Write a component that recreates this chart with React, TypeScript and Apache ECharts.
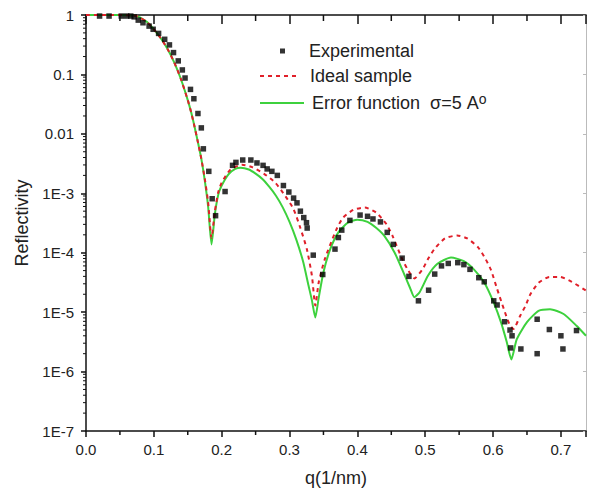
import { useEffect, useRef } from 'react';
import * as echarts from 'echarts';

// ---------- data ----------
const expQ = [
  0.020, 0.034, 0.052, 0.060, 0.066, 0.071, 0.077, 0.084, 0.093, 0.099,
  0.107, 0.116, 0.123, 0.129, 0.136, 0.142, 0.146, 0.154, 0.159, 0.165,
  0.170, 0.173, 0.181, 0.186, 0.191, 0.205, 0.216, 0.221, 0.231, 0.243,
  0.252, 0.261, 0.267, 0.274, 0.282, 0.291, 0.299, 0.306, 0.311, 0.316,
  0.321, 0.325, 0.326, 0.335, 0.349, 0.367, 0.372, 0.377, 0.389, 0.404,
  0.415, 0.423, 0.434, 0.444, 0.453, 0.466, 0.476, 0.490, 0.505, 0.514,
  0.524, 0.534, 0.548, 0.557, 0.566, 0.579, 0.587, 0.601, 0.606, 0.617,
  0.625, 0.628, 0.626, 0.641, 0.665, 0.665, 0.683, 0.700, 0.703, 0.723,
];
const expR = [
  0.96, 0.96, 0.96, 0.96, 0.96, 0.93, 0.82, 0.74, 0.65, 0.575,
  0.49, 0.39, 0.314, 0.233, 0.169, 0.119, 0.087, 0.056, 0.039, 0.022,
  0.0126, 0.0056, 0.00234, 0.00081, 0.00042, 0.00107, 0.00295, 0.00331, 0.00363, 0.00363,
  0.00324, 0.00295, 0.00257, 0.00234, 0.0020, 0.00135, 0.00105, 0.00083, 0.00069, 0.0005,
  0.00039, 0.00032, 0.00026, 9.1e-5, 4.3e-5, 1.15e-4, 1.8e-4, 2.4e-4, 3.5e-4, 4.3e-4,
  4.1e-4, 3.7e-4, 3.3e-4, 2.2e-4, 1.38e-4, 8.1e-5, 4.0e-5, 1.55e-5, 2.34e-5, 4.37e-5,
  6.0e-5, 6.6e-5, 6.8e-5, 6.3e-5, 5.25e-5, 3.8e-5, 3.24e-5, 1.55e-5, 1.32e-5, 6.9e-6,
  5.0e-6, 4.0e-6, 2.5e-6, 2.4e-6, 7.6e-6, 2.0e-6, 5.1e-6, 4.0e-6, 2.4e-6, 4.9e-6,
];

const idealQ = [
  0.000, 0.030, 0.060, 0.070, 0.075, 0.080, 0.090, 0.100, 0.110, 0.120,
  0.130, 0.140, 0.150, 0.155, 0.160, 0.165, 0.170, 0.175, 0.180, 0.185,
  0.190, 0.195, 0.200, 0.213, 0.230, 0.245, 0.262, 0.279, 0.294, 0.306,
  0.316, 0.3255, 0.333, 0.338, 0.343, 0.352, 0.369, 0.379, 0.394, 0.411,
  0.428, 0.443, 0.452, 0.465, 0.474, 0.484, 0.496, 0.504, 0.514, 0.529,
  0.547, 0.562, 0.578, 0.589, 0.597, 0.606, 0.616, 0.624, 0.630, 0.640,
  0.648, 0.655, 0.667, 0.683, 0.699, 0.716, 0.737,
];
const idealR = [
  1, 1, 0.995, 0.98, 0.955, 0.90, 0.76, 0.575, 0.41, 0.27,
  0.16, 0.083, 0.037, 0.023, 0.0132, 0.0072, 0.0038, 0.00178, 0.00071, 0.000178,
  0.0005, 0.00105, 0.00151, 0.00251, 0.00302, 0.00275, 0.00214, 0.00151, 0.00089, 0.00054,
  0.00026, 1.15e-4, 4.1e-5, 1.29e-5, 3.16e-5, 7.8e-5, 2.45e-4, 3.9e-4, 5.25e-4, 5.75e-4,
  4.7e-4, 3.0e-4, 1.9e-4, 8.3e-5, 5.25e-5, 3.7e-5, 5.25e-5, 7.8e-5, 1.17e-4, 1.74e-4,
  1.95e-4, 1.74e-4, 1.23e-4, 7.8e-5, 5.1e-5, 2.45e-5, 1.12e-5, 6.3e-6, 5.2e-6, 8.7e-6,
  1.29e-5, 2.0e-5, 3.1e-5, 3.9e-5, 3.9e-5, 3.24e-5, 2.3e-5,
];

const errQ = [
  0.000, 0.030, 0.060, 0.070, 0.075, 0.080, 0.090, 0.100, 0.110, 0.120,
  0.130, 0.140, 0.150, 0.155, 0.160, 0.165, 0.170, 0.175, 0.180, 0.185,
  0.190, 0.195, 0.200, 0.210, 0.220, 0.228, 0.240, 0.250, 0.260, 0.270,
  0.280, 0.290, 0.300, 0.310, 0.320, 0.328, 0.333, 0.338, 0.343, 0.350,
  0.360, 0.372, 0.386, 0.400, 0.415, 0.428, 0.440, 0.455, 0.470, 0.478,
  0.484, 0.492, 0.504, 0.518, 0.538, 0.557, 0.572, 0.587, 0.601, 0.612,
  0.620, 0.627, 0.635, 0.650, 0.667, 0.684, 0.704, 0.723, 0.737,
];
const errR = [
  1, 1, 0.995, 0.98, 0.955, 0.90, 0.76, 0.575, 0.41, 0.27,
  0.16, 0.083, 0.037, 0.023, 0.0132, 0.0072, 0.0038, 0.00166, 0.0006, 0.000138,
  0.00045, 0.00095, 0.00135, 0.00209, 0.00257, 0.00269, 0.00251, 0.00214, 0.00174, 0.00129,
  0.00091, 0.00058, 0.00033, 1.66e-4, 7.1e-5, 2.8e-5, 1.58e-5, 8.1e-6, 1.74e-5, 4.7e-5,
  1.15e-4, 2.2e-4, 3.2e-4, 3.6e-4, 3.3e-4, 2.6e-4, 1.9e-4, 1.0e-4, 4.1e-5, 2.5e-5,
  1.78e-5, 2.19e-5, 4.1e-5, 6.5e-5, 8.3e-5, 7.2e-5, 5.2e-5, 3.16e-5, 1.45e-5, 6.6e-6,
  3.2e-6, 1.6e-6, 3.5e-6, 6.8e-6, 1.05e-5, 1.12e-5, 9.3e-6, 5.9e-6, 4.0e-6,
];

const xTickLabels = ['0.0', '0.1', '0.2', '0.3', '0.4', '0.5', '0.6', '0.7'];
const yTickLabels = ['1', '0.1', '0.01', '1E-3', '1E-4', '1E-5', '1E-6', '1E-7'];
const xMinorTicks = [0.05, 0.15, 0.25, 0.35, 0.45, 0.55, 0.65];
const yMinorMantissas = [2, 3, 4, 5, 6, 7, 8, 9];
const yDecades = [1e-7, 1e-6, 1e-5, 1e-4, 1e-3, 1e-2, 1e-1];

const X_MAX = 0.737;
const Y_MIN = 1e-7;
const Y_MAX = 1;

const SERIES_EXP = 'Experimental';
const SERIES_IDEAL = 'Ideal sample';
const SERIES_ERR = 'Error function  σ=5 A°';

export default function App() {
  const ref = useRef<HTMLDivElement>(null);

  useEffect(() => {
    if (!ref.current) return;
    const chart = echarts.init(ref.current, null, { renderer: 'svg' });
    const font = 'Liberation Sans';
    const ink = '#111';
    const textInk = '#222';

    const yMinor: number[][] = [];
    yDecades.forEach((d) => yMinorMantissas.forEach((m) => yMinor.push([0, m * d])));

    const xFmt = (v: number) => {
      const i = Math.round(v * 10);
      return Math.abs(v * 10 - i) < 1e-6 ? xTickLabels[i] ?? '' : '';
    };
    const yFmt = (v: number) => {
      const e = -Math.round(Math.log10(v));
      return yTickLabels[e] ?? '';
    };

    const axisLineStyle = { color: ink, width: 1.5 };

    const option: any = {
      animation: false,
      backgroundColor: '#fff',
      textStyle: { fontFamily: font },
      grid: { left: 86, right: 1, top: 15, bottom: 60 },
      xAxis: [
        {
          type: 'value',
          min: 0,
          max: X_MAX,
          interval: 0.1,
          position: 'bottom',
          axisLine: { show: true, onZero: false, lineStyle: axisLineStyle },
          axisTick: { show: true, length: 6, lineStyle: { color: ink, width: 1.5 } },
          axisLabel: { margin: 11, fontSize: 15, color: textInk, fontFamily: font, formatter: xFmt },
          splitLine: { show: false },
          name: 'q(1/nm)',
          nameLocation: 'middle',
          nameGap: 38,
          nameTextStyle: { fontSize: 18, color: textInk, fontFamily: font },
        },
        {
          type: 'value',
          min: 0,
          max: X_MAX,
          interval: 0.1,
          position: 'top',
          axisLine: { show: true, onZero: false, lineStyle: axisLineStyle },
          axisTick: { show: true, inside: true, length: 9, lineStyle: { color: ink, width: 1.5 } },
          axisLabel: { show: false },
          splitLine: { show: false },
        },
      ],
      yAxis: [
        {
          type: 'log',
          logBase: 10,
          min: Y_MIN,
          max: Y_MAX,
          position: 'left',
          axisLine: { show: true, onZero: false, lineStyle: axisLineStyle },
          axisTick: { show: true, length: 5, lineStyle: { color: ink, width: 1.5 } },
          axisLabel: { margin: 12, fontSize: 15, color: textInk, fontFamily: font, formatter: yFmt },
          splitLine: { show: false },
          name: 'Reflectivity',
          nameLocation: 'middle',
          nameGap: 48,
          nameTextStyle: { fontSize: 18, color: textInk, fontFamily: font },
        },
        {
          type: 'log',
          logBase: 10,
          min: Y_MIN,
          max: Y_MAX,
          position: 'right',
          axisLine: { show: true, onZero: false, lineStyle: { color: '#bbb', width: 1 } },
          axisTick: { show: true, inside: true, length: 3, lineStyle: { color: '#bbb', width: 1 } },
          axisLabel: { show: false },
          splitLine: { show: false },
        },
      ],
      legend: [
        {
          data: [SERIES_EXP],
          selectedMode: false,
          orient: 'vertical',
          left: 280,
          top: 42,
          padding: 0,
          itemWidth: 5,
          itemHeight: 5,
          icon: 'rect',
          textStyle: { fontSize: 18, color: textInk, fontFamily: font, padding: [0, 0, 0, 19] },
        },
        {
          data: [SERIES_IDEAL],
          selectedMode: false,
          orient: 'vertical',
          left: 259,
          top: 67,
          padding: 0,
          itemWidth: 38,
          itemHeight: 14,
          itemStyle: { opacity: 0 },
          textStyle: { fontSize: 18, color: textInk, fontFamily: font, padding: [0, 0, 0, 7] },
        },
        {
          data: [SERIES_ERR],
          selectedMode: false,
          orient: 'vertical',
          left: 259,
          top: 92,
          padding: 0,
          itemWidth: 44,
          itemHeight: 14,
          itemStyle: { opacity: 0 },
          formatter: () => 'Error function  σ=5 A{sup|o}',
          textStyle: {
            fontSize: 18,
            lineHeight: 22,
            color: textInk,
            fontFamily: font,
            padding: [0, 0, 0, 3],
            rich: {
              sup: { fontSize: 14, color: textInk, fontFamily: font, verticalAlign: 'top', lineHeight: 14 },
            },
          },
        },
      ],
      series: [
        {
          name: SERIES_ERR,
          type: 'line',
          xAxisIndex: 0,
          yAxisIndex: 0,
          data: errQ.map((q, i) => [q, errR[i]]),
          symbol: 'none',
          smooth: 0.2,
          lineStyle: { color: '#3dd13d', width: 2 },
          itemStyle: { color: '#3dd13d' },
          z: 2,
        },
        {
          name: SERIES_IDEAL,
          type: 'line',
          xAxisIndex: 0,
          yAxisIndex: 0,
          data: idealQ.map((q, i) => [q, idealR[i]]),
          symbol: 'none',
          smooth: 0.2,
          lineStyle: { color: '#e0202a', width: 2, type: [4, 4] },
          itemStyle: { color: '#e0202a' },
          z: 3,
        },
        {
          name: SERIES_EXP,
          type: 'scatter',
          xAxisIndex: 0,
          yAxisIndex: 0,
          data: expQ.map((q, i) => [q, expR[i]]),
          symbol: 'rect',
          symbolSize: 5.5,
          itemStyle: { color: '#000' },
          z: 4,
        },
        {
          name: 'yMinorTicks',
          type: 'custom',
          xAxisIndex: 0,
          yAxisIndex: 0,
          silent: true,
          clip: false,
          data: yMinor,
          renderItem: (_p: any, api: any) => {
            const p = api.coord([0, api.value(1)]);
            return {
              type: 'line',
              shape: { x1: p[0] - 3, y1: p[1], x2: p[0], y2: p[1] },
              style: { stroke: ink, lineWidth: 1 },
            };
          },
          z: 5,
        },
        {
          name: 'xMinorTicks',
          type: 'custom',
          xAxisIndex: 0,
          yAxisIndex: 0,
          silent: true,
          clip: false,
          data: xMinorTicks.map((v) => [v, Y_MIN]),
          renderItem: (_p: any, api: any) => {
            const pb = api.coord([api.value(0), Y_MIN]);
            const pt = api.coord([api.value(0), Y_MAX]);
            return {
              type: 'group',
              children: [
                {
                  type: 'line',
                  shape: { x1: pb[0], y1: pb[1], x2: pb[0], y2: pb[1] + 4 },
                  style: { stroke: ink, lineWidth: 1.5 },
                },
                {
                  type: 'line',
                  shape: { x1: pt[0], y1: pt[1], x2: pt[0], y2: pt[1] + 6 },
                  style: { stroke: ink, lineWidth: 1.5 },
                },
              ],
            };
          },
          z: 5,
        },
      ],
    };

    chart.setOption(option);
    return () => chart.dispose();
  }, []);

  return (
    <div
      ref={ref}
      style={{ position: 'fixed', left: 0, top: 0, width: 589, height: 492, background: '#fff' }}
    />
  );
}
